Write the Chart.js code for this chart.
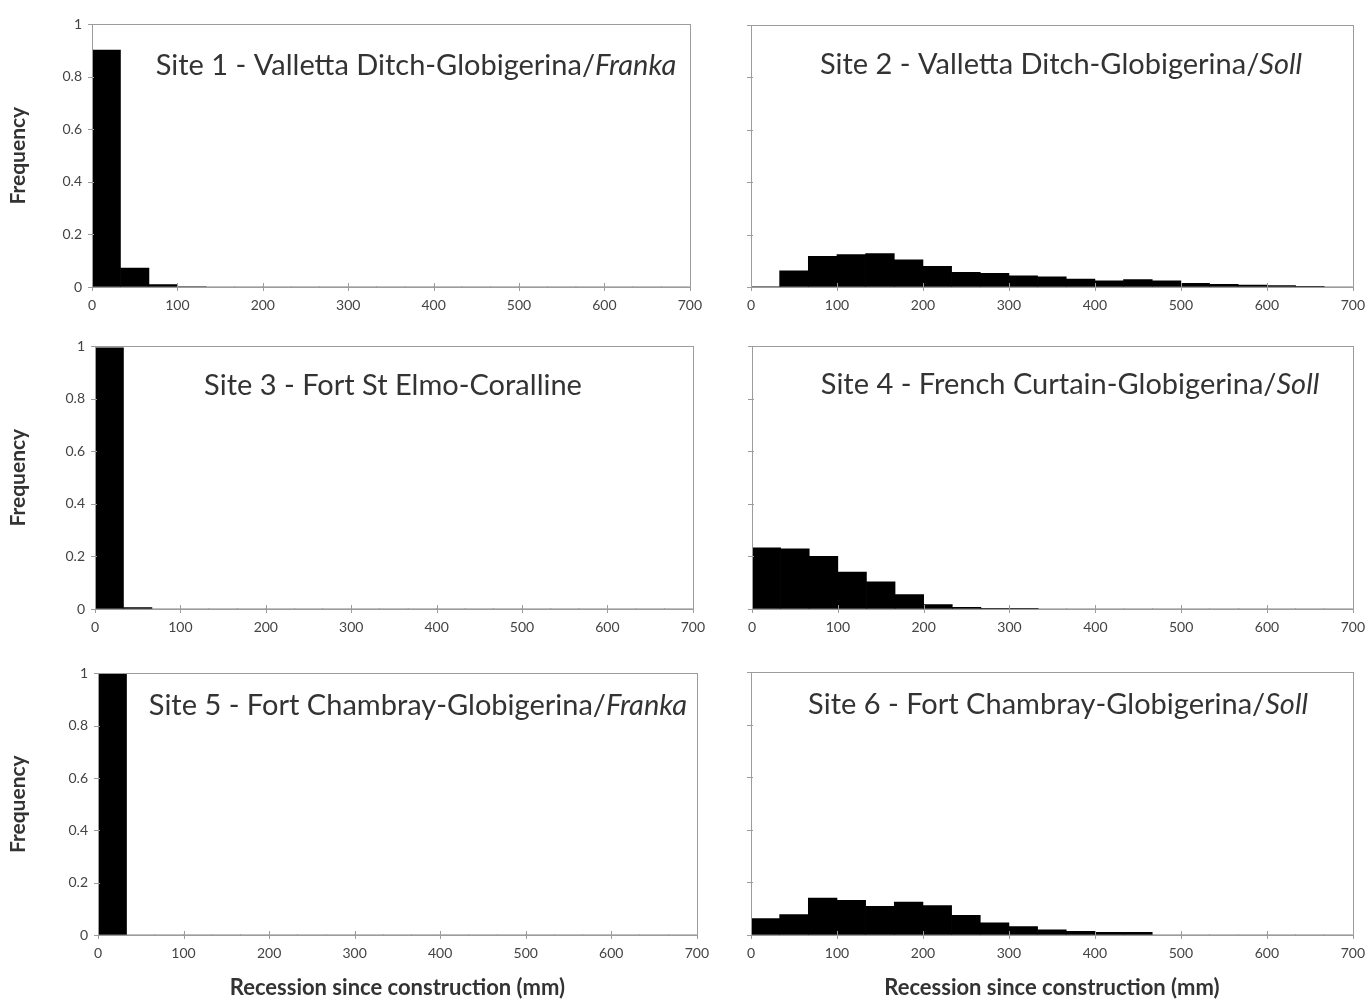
<!DOCTYPE html>
<html>
<head>
<meta charset="utf-8">
<script src="https://cdn.jsdelivr.net/npm/chart.js@4.4.1/dist/chart.umd.min.js"></script>
<style>
  body { margin: 0; background: #fff; }
  #wrap { position: relative; width: 1370px; height: 1003px; overflow: hidden; }
  .panel { position: absolute; }
</style>
</head>
<body>
<div id="wrap"></div>
<script>
// 21 recession bins of 33.3 mm between 0 and 700 mm
const bins = ["0-33", "33-67", "67-100", "100-133", "133-167", "167-200", "200-233",
  "233-267", "267-300", "300-333", "333-367", "367-400", "400-433", "433-467",
  "467-500", "500-533", "533-567", "567-600", "600-633", "633-667", "667-700"];
const binWidth = 100 / 3;

const site1 = [0.902, 0.072, 0.009, 0.002, 0, 0, 0, 0, 0, 0, 0, 0, 0, 0, 0, 0, 0, 0, 0, 0, 0];
const site2 = [0.002, 0.062, 0.117, 0.124, 0.128, 0.104, 0.079, 0.056, 0.052, 0.043, 0.039,
  0.030, 0.024, 0.028, 0.024, 0.014, 0.010, 0.007, 0.005, 0.003, 0];
const site3 = [0.995, 0.005, 0, 0, 0, 0, 0, 0, 0, 0, 0, 0, 0, 0, 0, 0, 0, 0, 0, 0, 0];
const site4 = [0.233, 0.229, 0.200, 0.140, 0.103, 0.055, 0.017, 0.006, 0.003, 0.001, 0,
  0, 0, 0, 0, 0, 0, 0, 0, 0, 0];
const site5 = [1, 0, 0, 0, 0, 0, 0, 0, 0, 0, 0, 0, 0, 0, 0, 0, 0, 0, 0, 0, 0];
const site6 = [0.062, 0.078, 0.140, 0.132, 0.109, 0.125, 0.112, 0.075, 0.046, 0.032, 0.020,
  0.014, 0.010, 0.010, 0, 0, 0, 0, 0, 0, 0];

const xTicks = [0, 100, 200, 300, 400, 500, 600, 700];
const yTicks = [0, 0.2, 0.4, 0.6, 0.8, 1];
const yTickLabels = ["0", "0.2", "0.4", "0.6", "0.8", "1"];

const xTitle = "Recession since construction (mm)";
const yTitle = "Frequency";

// plot-area boxes [left, top, width, height] in page pixels
const panels = [
  { data: site1, title: [["Site 1 - Valletta Ditch-Globigerina/", false], ["Franka", true]],
    box: [92, 24, 601, 263], left: true, bottom: false, tdx: 324, tdy: 41 },
  { data: site2, title: [["Site 2 - Valletta Ditch-Globigerina/", false], ["Soll", true]],
    box: [751, 25, 602, 262], left: false, bottom: false, tdx: 310, tdy: 40 },
  { data: site3, title: [["Site 3 - Fort St Elmo-Coralline", false]],
    box: [95, 346, 601, 263], left: true, bottom: false, tdx: 298, tdy: 39 },
  { data: site4, title: [["Site 4 - French Curtain-Globigerina/", false], ["Soll", true]],
    box: [752, 346, 601, 263], left: false, bottom: false, tdx: 318, tdy: 39 },
  { data: site5, title: [["Site 5 - Fort Chambray-Globigerina/", false], ["Franka", true]],
    box: [98, 673, 602, 262], left: true, bottom: true, tdx: 320, tdy: 32 },
  { data: site6, title: [["Site 6 - Fort Chambray-Globigerina/", false], ["Soll", true]],
    box: [751, 672, 602, 263], left: false, bottom: true, tdx: 307, tdy: 33 }
];

const FONT = "Lato, 'Open Sans', sans-serif";
const AXIS = "#9c9c9c";

const framePlugin = {
  id: "frame",
  afterDatasetsDraw(chart) {
    const { ctx, chartArea: a, scales } = chart;
    ctx.save();
    ctx.strokeStyle = AXIS;
    ctx.lineWidth = 1;
    ctx.strokeRect(Math.round(a.left) + 0.5, Math.round(a.top) + 0.5,
      Math.round(a.right - a.left), Math.round(a.bottom - a.top));
    // small tick marks straddling the axes
    ctx.beginPath();
    xTicks.forEach(v => {
      const x = Math.round(scales.x.getPixelForValue(v)) + 0.5;
      ctx.moveTo(x, a.bottom - 4);
      ctx.lineTo(x, a.bottom + 4);
    });
    yTicks.forEach(v => {
      const y = Math.round(scales.y.getPixelForValue(v)) + 0.5;
      ctx.moveTo(a.left - 4, y);
      ctx.lineTo(a.left + 2, y);
    });
    ctx.stroke();
    ctx.restore();
  },
  afterDraw(chart, args, opts) {
    if (!opts.parts) return;
    const { ctx, chartArea: a } = chart;
    ctx.save();
    ctx.fillStyle = "#333";
    ctx.textBaseline = "middle";
    const fonts = opts.parts.map(p => (p[1] ? "italic " : "") + "29px " + FONT);
    let total = 0;
    const widths = opts.parts.map((p, i) => {
      ctx.font = fonts[i];
      const w = ctx.measureText(p[0]).width;
      total += w;
      return w;
    });
    let x = a.left + opts.dx - total / 2;
    const y = a.top + opts.dy;
    opts.parts.forEach((p, i) => {
      ctx.font = fonts[i];
      ctx.fillText(p[0], x, y);
      x += widths[i];
    });
    ctx.restore();
  }
};

const wrap = document.getElementById("wrap");

panels.forEach(p => {
  const [bl, bt, bw, bh] = p.box;
  const padT = 14;
  const padR = p.left ? 14 : 1370 - (bl + bw);
  const canvasLeft = p.left ? 0 : 715;
  const padL = bl - canvasLeft;
  const padB = p.bottom ? 68 : 40;

  const div = document.createElement("div");
  div.className = "panel";
  div.style.left = canvasLeft + "px";
  div.style.top = (bt - padT) + "px";
  div.style.width = (padL + bw + padR) + "px";
  div.style.height = (padT + bh + padB) + "px";
  const canvas = document.createElement("canvas");
  div.appendChild(canvas);
  wrap.appendChild(div);

  new Chart(canvas.getContext("2d"), {
    type: "bar",
    data: {
      labels: bins,
      datasets: [{
        data: p.data.map((v, i) => ({ x: (i + 0.5) * binWidth, y: v })),
        backgroundColor: "#000",
        borderWidth: 0,
        barPercentage: 1,
        categoryPercentage: 1
      }]
    },
    options: {
      responsive: true,
      maintainAspectRatio: false,
      animation: false,
      layout: { padding: { top: padT, right: padR, left: 0, bottom: 0 } },
      plugins: {
        legend: { display: false },
        tooltip: { enabled: false },
        frame: { parts: p.title, dx: p.tdx, dy: p.tdy }
      },
      scales: {
        x: {
          type: "linear",
          min: xTicks[0],
          max: xTicks[xTicks.length - 1],
          offset: false,
          afterBuildTicks: s => { s.ticks = xTicks.map(v => ({ value: v })); },
          afterFit: s => { s.height = padB; },
          ticks: { color: "#444", font: { family: FONT, size: 14 }, padding: 5, maxRotation: 0 },
          grid: { offset: false, drawOnChartArea: false, tickLength: 5, color: "rgba(0,0,0,0)" },
          border: { color: AXIS },
          title: {
            display: p.bottom, text: xTitle, color: "#333",
            font: { family: FONT, size: 22, weight: "bold" }, padding: { top: 0, bottom: 2 }
          }
        },
        y: {
          min: 0,
          max: 1,
          afterBuildTicks: s => { s.ticks = yTicks.map(v => ({ value: v })); },
          afterFit: s => { s.width = padL; },
          ticks: {
            display: p.left, color: "#444", font: { family: FONT, size: 14 }, padding: 6,
            callback: (v, i) => yTickLabels[i]
          },
          grid: { offset: false, drawOnChartArea: false, tickLength: 4, color: "rgba(0,0,0,0)" },
          border: { color: AXIS },
          title: {
            display: p.left, text: yTitle, color: "#333",
            font: { family: FONT, size: 21, weight: "bold" }, padding: { top: 6, bottom: 0 }
          }
        }
      }
    },
    plugins: [framePlugin]
  });
});
</script>
</body>
</html>
